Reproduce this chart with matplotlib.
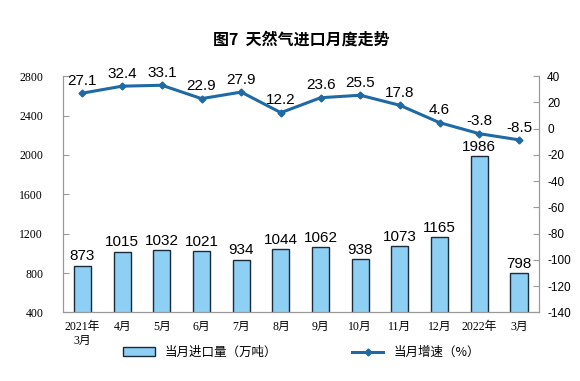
import numpy as np
import matplotlib.pyplot as plt

plt.rcParams['font.family'] = ['Liberation Sans', 'Noto Sans CJK SC']
plt.rcParams['axes.unicode_minus'] = False

months = ["2021年\n3月", "4月", "5月", "6月", "7月", "8月", "9月",
          "10月", "11月", "12月", "2022年", "3月"]
imports = [873, 1015, 1032, 1021, 934, 1044, 1062, 938, 1073, 1165, 1986, 798]
growth = [27.1, 32.4, 33.1, 22.9, 27.9, 12.2, 23.6, 25.5, 17.8, 4.6, -3.8, -8.5]

bar_color = "#8ecff4"
line_color = "#1f6aa5"
x = np.arange(len(months))

fig = plt.figure(figsize=(5.8, 3.81), dpi=100)
ax = fig.add_axes([0.108, 0.18, 0.821, 0.62])
ax2 = ax.twinx()

ax.bar(x, imports, width=0.43, color=bar_color, edgecolor="#1c2b3a", linewidth=1.0,
       label="当月进口量（万吨）", zorder=2)
for xi, v in zip(x, imports):
    ax.text(xi, v + 25, str(v), ha="center", va="bottom", fontsize=11, color="black")

ax.set_ylim(400, 2800)
ax.set_yticks(np.arange(400, 2801, 400))
ax.set_xlim(-0.5, len(months) - 0.5)
ax.set_xticks(x)
ax.set_xticklabels(months, fontsize=8.5, family=['Liberation Serif', 'Noto Sans CJK SC'])
for lab in ax.get_yticklabels():
    lab.set_family('Liberation Serif')
    lab.set_fontsize(8.5)

ax2.plot(x, growth, color=line_color, linewidth=2.2, marker="D", markersize=3.5,
         label="当月增速（%）", zorder=3)
for xi, v in zip(x, growth):
    ax2.text(xi, v + 4, f"{v:.1f}", ha="center", va="bottom", fontsize=11, color="black")
ax2.set_ylim(-140, 40)
ax2.set_yticks(np.arange(-140, 41, 20))
ax2.tick_params(axis="y", labelsize=8.5)

for a in (ax, ax2):
    a.tick_params(direction="in", length=4, color="#999999")
    for s in a.spines.values():
        s.set_color("#999999")
ax.spines["top"].set_visible(False)
ax2.spines["top"].set_visible(False)
ax.tick_params(axis="x", length=0, pad=6)
ax.tick_params(axis="y", left=True, pad=14)
ax2.tick_params(axis="y", right=True, pad=6)

fig.text(0.52, 0.895, "图7  天然气进口月度走势", ha="center", va="center",
         fontsize=11.5, fontweight="bold", family=['Noto Sans CJK SC'])

h1, l1 = ax.get_legend_handles_labels()
h2, l2 = ax2.get_legend_handles_labels()
fig.legend(h1 + h2, l1 + l2, loc="center", bbox_to_anchor=(0.52, 0.075), ncol=2,
           frameon=False, handlelength=2.5, columnspacing=6,
           prop={'family': ['Noto Sans CJK SC'], 'size': 9})

fig.savefig("out.png", dpi=100)
